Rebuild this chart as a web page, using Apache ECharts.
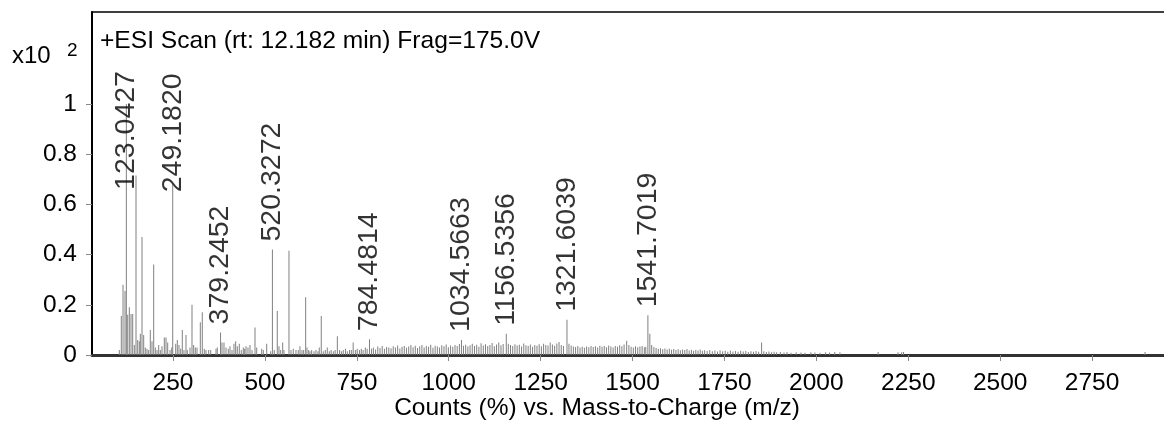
<!DOCTYPE html>
<html><head><meta charset="utf-8">
<script src="https://cdn.jsdelivr.net/npm/echarts@6/dist/echarts.min.js"></script>
<style>html,body{margin:0;padding:0;background:#fff;overflow:hidden}#c{width:1184px;height:423px}</style>
</head><body><div id="c"></div>
<script>
// m/z of every drawn line and its intensity (x10^2 counts %)
const peakMz = [
103.9,109.3,114,119.4,123.0427,126.7,131.1,135.7,140.3,144.7,149.3,153.9,158.3,161,165.6,170.2,174.6,179.2,183.8,188.2,192.8,197.4,201.8,206.4,211,215.4,220,226.3,230.9,235.5,241.8,246.4,249.1820,257.3,261.6,266.2,270.9,275.2,279.8,285.3,288.8,296.2,301.6,306.2,310.6,315.2,324.2,329.6,335,339.7,347,352.5,
366.9,370.4,379.2452,383.2,388.6,394.1,400.3,404.9,410.4,415.8,420.4,424.8,430.2,435.7,441.1,444.9,448.5,453.9,459.3,464.8,473,477.6,491.2,495.5,504.8,515.6,520.3272,525.4,533.6,538.2,542.8,548.3,551.8,565.4,570.9,577.1,584.4,590.7,595.3,600.8,605.4,610.8,614.4,619,622.5,627.1,633.4,638.8,644.3,647.8,653.2,658.7,664.1,669.6,675,
680,686,691,697,703,708,713,719,724,730,735,740,746,751,757,762,767,773,778,784.4814,790,
795,801,807,813,819,825,831,837,843,849,855,861,867,873,879,885,891,897,903,909,915,921,927,933,939,945,951,957,963,969,975,981,987,993,999,
1005,1011,1017,1023,1029,1034.5663,1040,1046,1052,1058,1064,1070,1076,1082,1088,1094,1100,1106,1112,1118,1124,1130,1136,1142,1148,1156.5356,1162,1168,1174,1180,1186,1192,1198,1204,1210,1216,1222,1228,1234,1240,
1246,1252,1258,1264,1270,1276,1282,1288,1294,1300,1306,1312,1321.6039,1327,1333,1339,1345,1351,1357,1363,1369,1375,1381,1387,1393,1399,1405,1411,1417,1423,1429,1435,1441,1447,1453,1459,1465,1471,1477,1484,1490,1496,1502,1508,1514,1520,1526,1532,1536,1541.7019,1547,1552,1558,
1564,1570,1576,1582,1588,1594,1600,1606,1612,1618,1624,1630,1636,1642,1648,1654,1660,1666,1672,1678,1684,1690,1696,
1703,1710,1717,1724,1731,1738,1745,1752,1759,1766,1773,1780,1787,1794,1801,1808,1815,1822,1829,1836,1843,1851,1857,1864,1871,1878,1885,1892,
1902,1912,1920,1931,1945,1958,1969,1985,1996,2010,2025,2036,2050,2064,2168,2222,2232,2237,2894
];
const peakInt = [
0.02,0.155,0.28,0.255,1.0,0.16,0.19,0.163,0.163,0.04,0.715,0.06,0.055,0.085,0.47,0.08,0.03,0.025,0.02,0.1,0.055,0.36,0.03,0.02,0.04,0.02,0.035,0.07,0.07,0.05,0.02,0.03,0.68,0.045,0.06,0.04,0.025,0.1,0.02,0.08,0.02,0.03,0.2,0.04,0.03,0.03,0.13,0.17,0.025,0.02,0.02,0.02,
0.025,0.03,0.09,0.05,0.05,0.03,0.025,0.035,0.02,0.045,0.055,0.035,0.045,0.02,0.03,0.025,0.035,0.03,0.04,0.02,0.11,0.03,0.025,0.02,0.045,0.015,0.42,0.02,0.175,0.035,0.02,0.05,0.02,0.415,0.02,0.025,0.02,0.02,0.035,0.02,0.02,0.23,0.03,0.02,0.015,0.02,0.015,0.02,0.015,0.03,0.155,0.015,0.02,0.03,0.015,
0.02,0.015,0.02,0.075,0.02,0.015,0.02,0.025,0.015,0.02,0.02,0.05,0.02,0.025,0.02,0.025,0.02,0.03,0.025,0.063,0.025,
0.03,0.022,0.034,0.028,0.036,0.025,0.032,0.03,0.027,0.035,0.03,0.038,0.026,0.033,0.036,0.029,0.034,0.04,0.031,0.037,0.028,0.035,0.04,0.03,0.036,0.033,0.041,0.029,0.037,0.034,0.03,0.039,0.035,0.042,0.031,
0.038,0.033,0.04,0.036,0.044,0.06,0.037,0.041,0.034,0.039,0.045,0.036,0.041,0.033,0.047,0.038,0.043,0.036,0.04,0.048,0.035,0.042,0.05,0.039,0.044,0.085,0.045,0.04,0.036,0.043,0.038,0.041,0.034,0.046,0.039,0.036,0.042,0.033,0.04,0.037,
0.043,0.035,0.045,0.04,0.038,0.05,0.042,0.037,0.046,0.052,0.04,0.036,0.14,0.045,0.038,0.034,0.032,0.036,0.03,0.033,0.029,0.034,0.031,0.036,0.032,0.035,0.03,0.037,0.033,0.036,0.031,0.038,0.034,0.03,0.036,0.033,0.039,0.035,0.042,0.057,0.04,0.033,0.03,0.035,0.031,0.034,0.036,0.031,0.033,0.158,0.085,0.04,0.032,
0.028,0.025,0.027,0.023,0.026,0.022,0.025,0.021,0.024,0.02,0.023,0.019,0.022,0.02,0.024,0.018,0.021,0.017,0.02,0.018,0.022,0.017,0.019,
0.016,0.02,0.015,0.018,0.014,0.019,0.015,0.017,0.013,0.018,0.014,0.016,0.013,0.017,0.014,0.016,0.012,0.015,0.013,0.016,0.013,0.05,0.015,0.012,0.014,0.011,0.013,0.011,
0.012,0.01,0.012,0.009,0.011,0.01,0.009,0.011,0.01,0.009,0.011,0.01,0.012,0.011,0.012,0.011,0.011,0.012,0.012
];
// annotated peaks
const labelMz = [123.0427,249.1820,379.2452,520.3272,784.4814,1034.5663,1156.5356,1321.6039,1541.7019];
const labelInt = [1.0,0.68,0.09,0.42,0.063,0.06,0.085,0.14,0.158];
const xTicks = [250,500,750,1000,1250,1500,1750,2000,2250,2500,2750];
const yTicks = [0,0.2,0.4,0.6,0.8,1];

const labelDist = [-86,-8,8,8,8,8,8,8,8];
const FONT = '"Liberation Sans", Arial, sans-serif';

const chart = echarts.init(document.getElementById('c'), null, {renderer:'canvas'});
const lines = peakMz.map((m,i)=>[m, peakInt[i]]);
const labels = labelMz.map((m,i)=>({value:[m, labelInt[i]], label:{distance: labelDist[i]}}));

chart.setOption({
  animation:false,
  backgroundColor:'#fff',
  grid:{left:92, top:12, right:0, bottom:68, show:true, borderColor:'#000', borderWidth:1.5, backgroundColor:'transparent'},
  xAxis:{type:'value', min:29.6, max:3000, splitLine:{show:false},
    axisLine:{show:true, onZero:false, lineStyle:{color:'#333', width:3}},
    axisTick:{show:true, customValues:xTicks, length:6, lineStyle:{color:'#888', width:1}},
    axisLabel:{customValues:xTicks, color:'#000', fontSize:24.5, fontFamily:FONT, margin:16, formatter:v=>String(v)}
  },
  yAxis:{type:'value', min:0, max:1.366, splitLine:{show:false},
    axisLine:{show:true, lineStyle:{color:'#000', width:2}},
    axisTick:{show:true, customValues:yTicks, length:6, lineStyle:{color:'#888', width:1}},
    axisLabel:{customValues:yTicks, color:'#000', fontSize:24.5, fontFamily:FONT, margin:15, formatter:v=>String(v)}
  },
  graphic:[
    {type:'text', left:100, top:29, style:{text:'+ESI Scan (rt: 12.182 min) Frag=175.0V', fontSize:24.6, fontFamily:FONT, fill:'#000'}},
    {type:'text', left:12, top:44, style:{text:'x10', fontSize:24, fontFamily:FONT, fill:'#000'}},
    {type:'text', left:67, top:41, style:{text:'2', fontSize:19, fontFamily:FONT, fill:'#000'}},
    {type:'text', x:597, y:408, style:{text:'Counts (%) vs. Mass-to-Charge (m/z)', fontSize:24.5, fontFamily:FONT, fill:'#000', textAlign:'center', textVerticalAlign:'middle'}}
  ],
  series:[
    {type:'bar', data:lines, barWidth:1, itemStyle:{color:'#808080'}, silent:true},
    {type:'scatter', data:labels, symbolSize:0, silent:true,
      label:{show:true, position:'top', rotate:90, align:'left', verticalAlign:'middle',
        fontSize:28.5, fontFamily:FONT, color:'#000',
        formatter:p=>p.value[0].toFixed(4)}}
  ]
});
</script></body></html>
